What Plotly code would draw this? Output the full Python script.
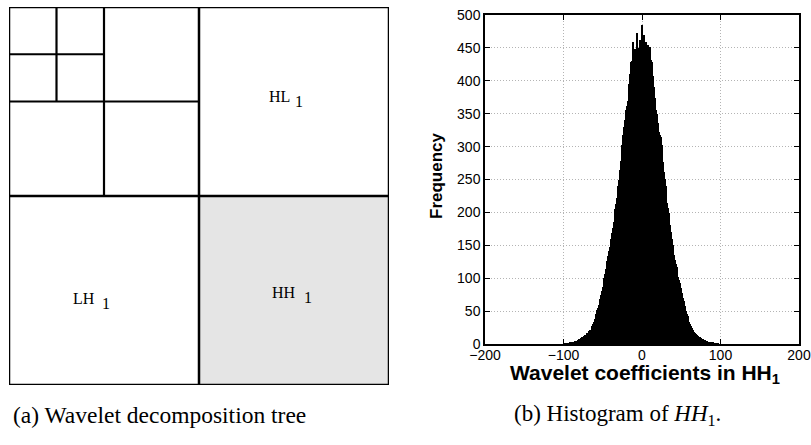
import plotly.graph_objects as go

W, H = 811, 445

# ---- histogram of HH1 coefficients (bin centres -100..100, width 1) ----
bin_start = -100
counts = [
    0, 0, 1, 0, 1, 1, 0, 1, 2, 1,            # -100 .. -91
    2, 1, 3, 2, 4, 3, 5, 4, 6, 5,            # -90 .. -81
    7, 6, 9, 8, 11, 9, 12, 13, 14, 13,       # -80 .. -71
    16, 17, 16, 20, 22, 21, 27, 28, 31, 33,  # -70 .. -61
    38, 42, 45, 51, 55, 60, 64, 69, 75, 80,  # -60 .. -51
    87, 93, 101, 106, 114, 120, 126, 134, 142, 148,  # -50 .. -41
    154, 160, 168, 176, 186, 196, 205, 213, 222, 230,  # -40 .. -31
    240, 250, 264, 278, 290, 303, 318, 330, 340, 345,  # -30 .. -21
    355, 362, 370, 378, 395, 410, 428, 430, 436, 459,  # -20 .. -11
    438, 448, 441, 445, 472, 450, 443, 462, 449, 457,  # -10 .. -1
    485,                                               # 0
    452, 469, 447, 455, 459, 440, 446, 454, 437, 452,  # 1 .. 10
    432, 429, 428, 408, 390, 374, 366, 356, 350, 336,  # 11 .. 20
    330, 322, 318, 315, 302, 298, 276, 262, 251, 240,  # 21 .. 30
    228, 215, 206, 199, 190, 181, 170, 160, 150, 145,  # 31 .. 40
    136, 128, 122, 117, 110, 102, 97, 93, 89, 85,      # 41 .. 50
    78, 70, 66, 62, 57, 50, 46, 42, 38, 34,            # 51 .. 60
    31, 28, 26, 24, 21, 19, 17, 16, 15, 14,            # 61 .. 70
    12, 11, 10, 10, 9, 8, 8, 7, 6, 6,                  # 71 .. 80
    5, 5, 4, 3, 3, 3, 2, 2, 1, 2,                      # 81 .. 90
    1, 1, 1, 0, 1, 0, 1, 0, 0, 0,                      # 91 .. 100
]
bin_centres = [bin_start + i for i in range(len(counts))]

x_ticks = [-200, -100, 0, 100, 200]
x_tick_text = ["\u2212200", "\u2212100", "0", "100", "200"]
y_ticks = [0, 50, 100, 150, 200, 250, 300, 350, 400, 450, 500]

# ---- decomposition tree: 3 levels of the LL band ----
levels = 3
subbands = [("HL", "1", 0.75, 0.25), ("LH", "1", 0.25, 0.75), ("HH", "1", 0.75, 0.75)]


def px(x):
    return x / W


def py(y):
    return 1 - y / H


fig = go.Figure()

fig.add_trace(go.Bar(
    x=bin_centres, y=counts, width=1.25,
    marker=dict(color="black", line=dict(width=0)),
    xaxis="x", yaxis="y", showlegend=False, hoverinfo="x+y",
))

axis_common = dict(
    showline=True, linecolor="black", linewidth=1.5, mirror="ticks",
    ticks="inside", ticklen=5, tickwidth=1, tickcolor="black",
    showgrid=True, gridcolor="#b4b4b4", griddash="1px,2px", gridwidth=1,
    zeroline=False, automargin=False,
    tickfont=dict(family="Liberation Sans", size=14, color="black"),
)

fig.update_layout(
    width=W, height=H,
    margin=dict(l=0, r=0, t=0, b=0, autoexpand=False),
    paper_bgcolor="white", plot_bgcolor="white",
    bargap=0,
    xaxis=dict(domain=[px(485), px(799)], range=[-200, 200], anchor="y",
               tickvals=x_ticks, ticktext=x_tick_text, ticklabelstandoff=-3,
               **axis_common),
    yaxis=dict(domain=[py(344), py(15)], range=[0, 500], anchor="x",
               tickvals=y_ticks, **axis_common),
    xaxis2=dict(domain=[px(9), px(389)], range=[0, 1], anchor="y2",
                visible=False, fixedrange=True, automargin=False),
    yaxis2=dict(domain=[py(385), py(7)], range=[1, 0], anchor="x2",
                visible=False, fixedrange=True, automargin=False),
)

# placeholder trace so the tree axes exist
fig.add_trace(go.Scatter(x=[0, 1], y=[0, 1], mode="markers", marker=dict(opacity=0),
                         xaxis="x2", yaxis="y2", showlegend=False, hoverinfo="skip"))

shapes = []
# highlighted HH1 band
shapes.append(dict(type="rect", xref="x2", yref="y2", x0=0.5, x1=1, y0=0.5, y1=1,
                   fillcolor="#e5e5e5", line=dict(width=0), layer="below"))
# outer frame
shapes.append(dict(type="rect", xref="x2", yref="y2", x0=0, x1=1, y0=0, y1=1,
                   line=dict(color="black", width=2.5)))
# subdivisions of each LL band
for lv in range(1, levels + 1):
    s = 0.5 ** lv
    lw = 2.5 if lv == 1 else 2.2
    shapes.append(dict(type="line", xref="x2", yref="y2", x0=s, x1=s, y0=0, y1=2 * s,
                       line=dict(color="black", width=lw)))
    shapes.append(dict(type="line", xref="x2", yref="y2", x0=0, x1=2 * s, y0=s, y1=s,
                       line=dict(color="black", width=lw)))
fig.update_layout(shapes=shapes)

ann = []
label_font = dict(family="Liberation Serif", size=16, color="black")
# (main text right edge shift, main y shift, subscript left shift, sub y shift)
label_offsets = {"HL": (-2, 5, -1, 0), "LH": (-7, -8, -4, -13), "HH": (4, -2, 8, -7)}
for name, sub, cx, cy in subbands:
    dx, dy, sdx, sdy = label_offsets[name]
    ann.append(dict(x=cx, y=cy, xref="x2", yref="y2", text=name, showarrow=False,
                    xanchor="right", yanchor="middle", xshift=dx, yshift=dy, font=label_font))
    ann.append(dict(x=cx, y=cy, xref="x2", yref="y2", text=sub, showarrow=False,
                    xanchor="left", yanchor="middle", xshift=sdx, yshift=sdy, font=label_font))

axis_font = dict(family="Liberation Sans", size=21, color="black")
ann.append(dict(x=px(645), y=py(374), xref="paper", yref="paper",
                text="<b>Wavelet coefficients in HH<sub>1</sub></b>", showarrow=False,
                xanchor="center", yanchor="middle", font=axis_font))
ann.append(dict(x=px(437), y=py(176), xref="paper", yref="paper",
                text="<b>Frequency</b>", showarrow=False, textangle=-90,
                xanchor="center", yanchor="middle",
                font=dict(family="Liberation Sans", size=17, color="black")))

ann.append(dict(x=px(11), y=py(415), xref="paper", yref="paper",
                text="(a) Wavelet decomposition tree", showarrow=False,
                xanchor="left", yanchor="middle",
                font=dict(family="Liberation Serif", size=23.5, color="black")))
ann.append(dict(x=px(512), y=py(415), xref="paper", yref="paper",
                text="(b) Histogram of <i>HH</i><sub>1</sub>.", showarrow=False,
                xanchor="left", yanchor="middle",
                font=dict(family="Liberation Serif", size=23, color="black")))
fig.update_layout(annotations=ann)

fig.write_html("out.html")
